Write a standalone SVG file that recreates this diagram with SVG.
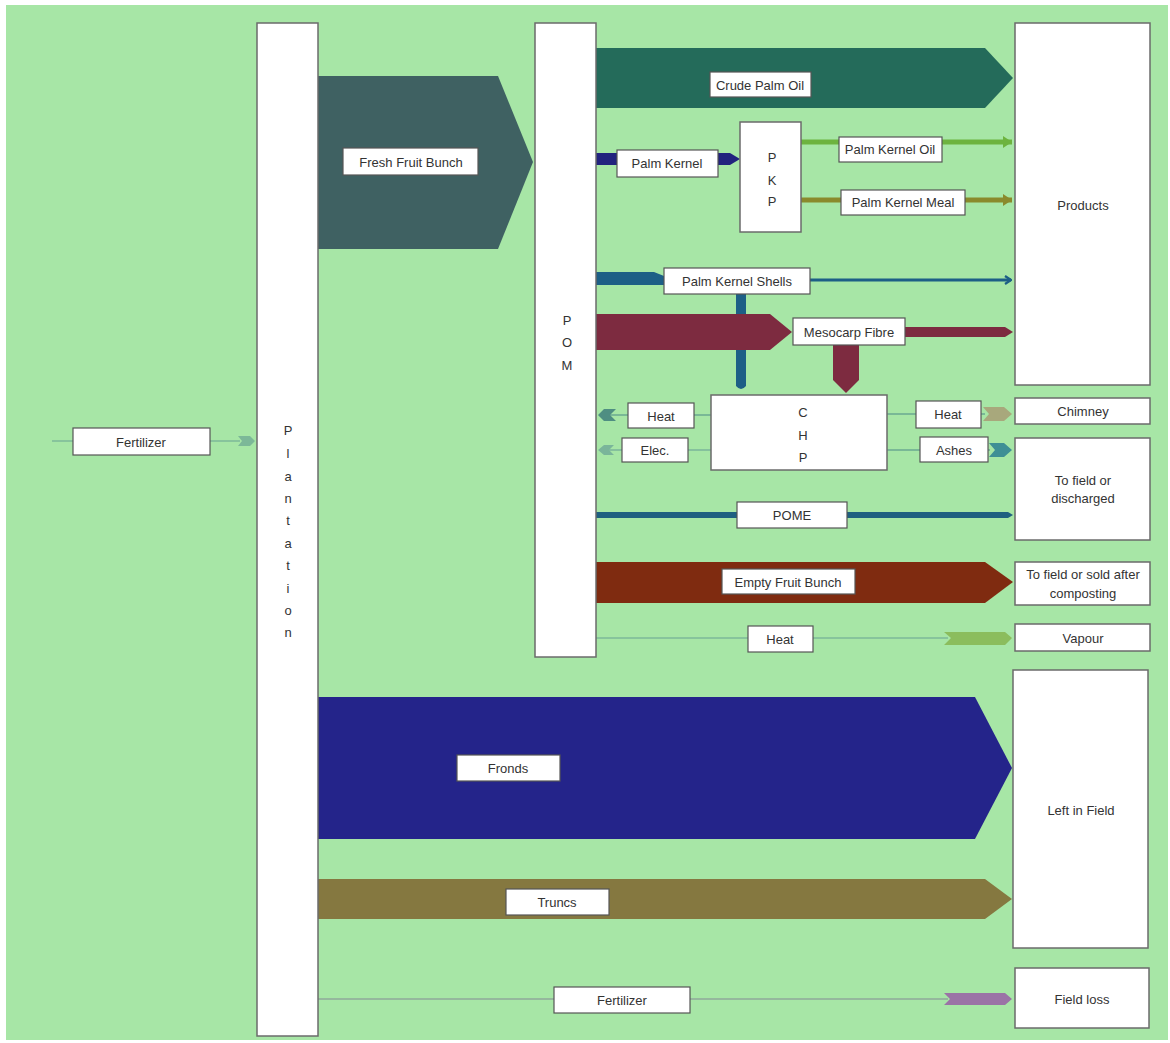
<svg xmlns="http://www.w3.org/2000/svg" width="1170" height="1043" viewBox="0 0 1170 1043">
<defs>
<style>
.node{fill:#ffffff;stroke:#6b6b6b;stroke-width:1.5}
.lbl{fill:#ffffff;stroke:#555555;stroke-width:1.2}
text{font-family:"Liberation Sans",Arial,sans-serif;font-size:13px;fill:#333333;text-anchor:middle;dominant-baseline:central}
.thin{fill:none;stroke-width:1.5}
</style>
<marker id="arrPKS" markerWidth="8" markerHeight="10" refX="7" refY="5" orient="auto" markerUnits="userSpaceOnUse"><path d="M1,1 L7,5 L1,9" fill="none" stroke="#1d5f86" stroke-width="2.2"/></marker>
<marker id="arrPKO" markerWidth="10" markerHeight="12" refX="9" refY="6" orient="auto" markerUnits="userSpaceOnUse"><path d="M0,0 L9,6 L0,12 Z" fill="#6db33f"/></marker>
<marker id="arrPKM" markerWidth="10" markerHeight="12" refX="9" refY="6" orient="auto" markerUnits="userSpaceOnUse"><path d="M0,0 L9,6 L0,12 Z" fill="#8a8a2c"/></marker>
</defs>
<rect x="0" y="0" width="1170" height="1043" fill="#ffffff"/>
<rect x="6" y="5" width="1162" height="1035" fill="#a7e6a6"/>

<g id="connectors">
  <!-- Fertilizer to Plantation -->
  <line x1="52" y1="441" x2="240" y2="441" stroke="#7cb898" stroke-width="1.5"/>
  <polygon points="238,436 250,436 255,441 250,446 238,446 242,441" fill="#7cb898"/>
  <!-- Fresh Fruit Bunch -->
  <polygon points="318,76 498,76 533,162 498,249 318,249" fill="#3f6162"/>
  <!-- Crude Palm Oil -->
  <polygon points="596,48 985,48 1013,78 985,108 596,108" fill="#246b5a"/>
  <!-- Palm Kernel -->
  <polygon points="596,153 730,153 740,159 730,165 596,165" fill="#22237e"/>
  <!-- PKO -->
  <line x1="801" y1="142" x2="1012" y2="142" stroke="#6db33f" stroke-width="5" marker-end="url(#arrPKO)"/>
  <!-- PKM -->
  <line x1="801" y1="200" x2="1012" y2="200" stroke="#8a8a2c" stroke-width="5" marker-end="url(#arrPKM)"/>
  <!-- Palm Kernel Shells -->
  <polygon points="596,272 654,272 664,276 664,285 596,285" fill="#1d5f86"/>
  <line x1="810" y1="280" x2="1011" y2="280" stroke="#1d5f86" stroke-width="3" marker-end="url(#arrPKS)"/>
  <path d="M736,294 L746,294 L746,386 Q741,392 736,386 Z" fill="#1d5f86"/>
  <!-- Mesocarp Fibre -->
  <polygon points="596,314 770,314 792,332 770,350 596,350" fill="#7d2b40"/>
  <polygon points="905,327 1005,327 1013,332 1005,337 905,337" fill="#7d2b40"/>
  <polygon points="833,345 859,345 859,380 846,393 833,380" fill="#7d2b40"/>
  <!-- CHP heat left -->
  <line x1="711" y1="415" x2="608" y2="415" stroke="#6aa890" stroke-width="1.5"/>
  <polygon points="616,409 604,409 598,415 604,421 616,421 610,415" fill="#4f8e82"/>
  <!-- Elec -->
  <line x1="711" y1="450" x2="608" y2="450" stroke="#7ab59a" stroke-width="1.5"/>
  <polygon points="614,445 604,445 598,450 604,455 614,455 609,450" fill="#7ab59a"/>
  <!-- Heat right to chimney -->
  <line x1="887" y1="414" x2="985" y2="414" stroke="#6aa890" stroke-width="1.5"/>
  <polygon points="983,407 1004,407 1012,414 1004,421 983,421 989,414" fill="#a8a87c"/>
  <!-- Ashes -->
  <line x1="887" y1="450" x2="990" y2="450" stroke="#6aa890" stroke-width="1.5"/>
  <polygon points="989,443 1004,443 1012,450 1004,457 989,457 995,450" fill="#3f8f95"/>
  <!-- POME -->
  <polygon points="596,512 1008,512 1013,515 1008,518 596,518" fill="#1f6080"/>
  <!-- Empty Fruit Bunch -->
  <polygon points="596,562 985,562 1013,582 985,603 596,603" fill="#7f2b10"/>
  <!-- Heat to Vapour -->
  <line x1="596" y1="638" x2="948" y2="638" stroke="#7cb898" stroke-width="1.5"/>
  <polygon points="944,632 1005,632 1012,638 1005,645 944,645 951,638" fill="#8bbd5d"/>
  <!-- Fronds -->
  <polygon points="318,697 975,697 1012,768 975,839 318,839" fill="#24248a"/>
  <!-- Truncs -->
  <polygon points="318,879 985,879 1012,899 985,919 318,919" fill="#857840"/>
  <!-- Fertilizer bottom -->
  <line x1="318" y1="999" x2="948" y2="999" stroke="#8fa89a" stroke-width="1.5"/>
  <polygon points="944,993 1005,993 1012,999 1005,1005 944,1005 950,999" fill="#9b73a6"/>
</g>

<g id="plantation">
  <rect class="node" x="257" y="23" width="61" height="1013"/>
  <text x="288" y="430">P</text><text x="288" y="453">l</text><text x="288" y="476">a</text><text x="288" y="498">n</text><text x="288" y="520">t</text><text x="288" y="543">a</text><text x="288" y="565">t</text><text x="288" y="588">i</text><text x="288" y="610">o</text><text x="288" y="632">n</text>
</g>
<g id="pom">
  <rect class="node" x="535" y="23" width="61" height="634"/>
  <text x="567" y="320">P</text><text x="567" y="342">O</text><text x="567" y="365">M</text>
</g>
<g id="pkp">
  <rect class="node" x="740" y="122" width="61" height="110"/>
  <text x="772" y="157" font-size="12">P</text><text x="772" y="180" font-size="12">K</text><text x="772" y="201" font-size="12">P</text>
</g>
<g id="chp">
  <rect class="node" x="711" y="395" width="176" height="75"/>
  <text x="803" y="412" font-size="12">C</text><text x="803" y="435" font-size="12">H</text><text x="803" y="457" font-size="12">P</text>
</g>
<g id="products"><rect class="node" x="1015" y="23" width="135" height="362"/><text x="1083" y="205">Products</text></g>
<g id="chimney"><rect class="node" x="1015" y="398" width="135" height="26"/><text x="1083" y="411">Chimney</text></g>
<g id="field-discharged"><rect class="node" x="1015" y="438" width="135" height="102"/><text x="1083" y="480">To field or</text><text x="1083" y="498">discharged</text></g>
<g id="field-composting"><rect class="node" x="1015" y="562" width="135" height="43"/><text x="1083" y="574">To field or sold after</text><text x="1083" y="593">composting</text></g>
<g id="vapour"><rect class="node" x="1015" y="624" width="135" height="27"/><text x="1083" y="638">Vapour</text></g>
<g id="left-in-field"><rect class="node" x="1013" y="670" width="135" height="278"/><text x="1081" y="810">Left in Field</text></g>
<g id="field-loss"><rect class="node" x="1015" y="968" width="134" height="60"/><text x="1082" y="999">Field loss</text></g>

<g id="labels">
  <g id="lbl-fert-left"><rect class="lbl" x="73" y="428" width="137" height="27"/><text x="141" y="442">Fertilizer</text></g>
  <g id="lbl-ffb"><rect class="lbl" x="343" y="148" width="135" height="27"/><text x="411" y="162">Fresh Fruit Bunch</text></g>
  <g id="lbl-cpo"><rect class="lbl" x="710" y="72" width="101" height="25"/><text x="760" y="85">Crude Palm Oil</text></g>
  <g id="lbl-pk"><rect class="lbl" x="617" y="150" width="101" height="27"/><text x="667" y="163">Palm Kernel</text></g>
  <g id="lbl-pko"><rect class="lbl" x="839" y="137" width="103" height="25"/><text x="890" y="149">Palm Kernel Oil</text></g>
  <g id="lbl-pkm"><rect class="lbl" x="841" y="190" width="124" height="25"/><text x="903" y="202">Palm Kernel Meal</text></g>
  <g id="lbl-pks"><rect class="lbl" x="664" y="268" width="146" height="26"/><text x="737" y="281">Palm Kernel Shells</text></g>
  <g id="lbl-mf"><rect class="lbl" x="793" y="318" width="112" height="27"/><text x="849" y="332">Mesocarp Fibre</text></g>
  <g id="lbl-heat-l"><rect class="lbl" x="628" y="403" width="66" height="25"/><text x="661" y="416">Heat</text></g>
  <g id="lbl-elec"><rect class="lbl" x="622" y="438" width="66" height="24"/><text x="655" y="450">Elec.</text></g>
  <g id="lbl-heat-r"><rect class="lbl" x="916" y="401" width="65" height="27"/><text x="948" y="414">Heat</text></g>
  <g id="lbl-ashes"><rect class="lbl" x="920" y="437" width="68" height="25"/><text x="954" y="450">Ashes</text></g>
  <g id="lbl-pome"><rect class="lbl" x="737" y="502" width="110" height="26"/><text x="792" y="515">POME</text></g>
  <g id="lbl-efb"><rect class="lbl" x="722" y="569" width="133" height="25"/><text x="788" y="582">Empty Fruit Bunch</text></g>
  <g id="lbl-heat-v"><rect class="lbl" x="748" y="626" width="65" height="26"/><text x="780" y="639">Heat</text></g>
  <g id="lbl-fronds"><rect class="lbl" x="457" y="755" width="103" height="26"/><text x="508" y="768">Fronds</text></g>
  <g id="lbl-truncs"><rect class="lbl" x="506" y="889" width="103" height="26"/><text x="557" y="902">Truncs</text></g>
  <g id="lbl-fert-bot"><rect class="lbl" x="554" y="987" width="136" height="26"/><text x="622" y="1000">Fertilizer</text></g>
</g>
</svg>
